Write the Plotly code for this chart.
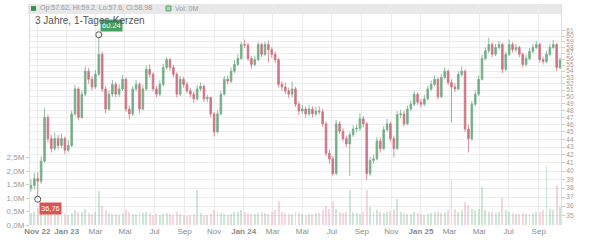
import math
import pandas as pd
import plotly.graph_objects as go

# ---- data (weekly candles) ----
start_date = "2022-10-19"
first_open = 38.0
closes = [
    38.3, 39.1, 38.8, 41.2, 47.0, 44.1, 42.8, 44.1, 43.2, 44.1,
    42.6, 43.2, 47.5, 51.2, 47.0, 50.4, 54.0, 52.7, 51.5, 53.5,
    56.8, 51.2, 48.2, 50.4, 51.9, 50.4, 51.2, 52.7, 48.2, 47.5,
    51.2, 51.9, 48.2, 51.2, 54.3, 53.5, 51.2, 50.4, 51.9, 54.6,
    55.9, 54.6, 53.5, 50.4, 52.7, 51.9, 50.9, 50.4, 49.7, 51.2,
    51.6, 49.7, 49.9, 47.5, 45.0, 47.5, 50.4, 52.7, 52.4, 54.0,
    55.1, 56.1, 58.5, 58.4, 56.1, 55.1, 55.9, 58.5, 56.8, 58.5,
    57.6, 56.8, 55.9, 51.9, 51.5, 50.9, 50.4, 51.2, 48.9, 47.9,
    48.2, 47.5, 48.2, 47.5, 47.9, 47.8, 46.1, 42.2, 41.5, 39.7,
    46.1, 45.1, 44.1, 43.4, 44.6, 45.4, 45.5, 46.8, 46.1, 39.7,
    41.3, 41.5, 43.8, 42.8, 45.3, 46.1, 44.1, 42.8, 47.4, 47.5,
    46.1, 48.2, 48.9, 50.4, 49.2, 48.9, 49.7, 51.2, 51.9, 52.7,
    50.0, 53.0, 54.0, 52.2, 51.5, 51.2, 53.5, 54.0, 45.4, 44.1,
    48.9, 50.4, 52.7, 56.1, 57.4, 58.5, 56.8, 58.0, 58.5, 54.3,
    56.8, 58.5, 57.6, 58.0, 56.8, 55.1, 56.1, 57.3, 58.0, 58.5,
    55.9, 55.6, 56.8, 58.0, 58.5, 54.6, 55.8,
]
highs = [
    39.0, 39.8, 39.9, 41.8, 48.3, 47.4, 44.6, 44.9, 44.6, 44.8,
    44.4, 43.9, 48.0, 51.8, 51.5, 51.0, 54.8, 54.5, 53.2, 54.2,
    60.24, 57.3, 51.6, 51.0, 52.6, 52.3, 51.9, 53.4, 53.0, 48.7,
    51.7, 52.6, 52.2, 51.8, 54.9, 55.1, 53.8, 51.7, 52.5, 55.2,
    56.3, 56.2, 55.0, 53.8, 53.3, 53.1, 52.3, 51.4, 50.8, 51.8,
    52.2, 51.9, 50.3, 50.0, 47.8, 48.0, 50.9, 53.2, 53.3, 54.6,
    55.8, 56.8, 59.0, 59.4, 58.8, 56.5, 56.6, 58.9, 58.8, 59.0,
    59.2, 58.0, 57.3, 56.2, 52.4, 52.2, 51.4, 52.3, 51.5, 49.3,
    48.8, 48.6, 48.8, 48.6, 48.5, 48.6, 48.2, 46.4, 42.7, 41.9,
    46.6, 46.5, 45.5, 44.5, 45.0, 45.9, 46.0, 47.6, 47.2, 46.4,
    41.8, 42.0, 44.3, 44.2, 45.8, 46.8, 46.4, 44.5, 47.9, 48.1,
    47.9, 48.7, 49.5, 50.9, 50.7, 49.7, 50.3, 51.7, 52.5, 53.3,
    53.0, 53.6, 54.6, 54.3, 52.7, 52.1, 54.0, 54.8, 54.3, 46.0,
    49.4, 51.0, 53.3, 56.7, 58.0, 59.7, 58.9, 58.6, 59.1, 58.8,
    57.3, 59.4, 58.9, 58.6, 58.3, 57.1, 56.7, 57.9, 58.6, 59.1,
    58.8, 56.4, 57.4, 58.6, 59.3, 58.8, 56.3,
]
lows = [
    37.6, 37.9, 36.76, 38.5, 41.0, 43.6, 42.3, 42.5, 42.7, 42.9,
    42.1, 42.3, 43.0, 47.2, 46.6, 46.8, 50.1, 52.0, 51.0, 51.2,
    53.2, 50.7, 47.6, 47.9, 50.0, 49.9, 50.0, 50.9, 47.8, 46.7,
    47.2, 50.8, 47.6, 48.0, 50.9, 53.0, 50.8, 49.9, 50.1, 51.6,
    54.2, 54.1, 53.0, 49.9, 50.1, 51.4, 50.5, 49.9, 49.1, 49.4,
    50.8, 49.2, 49.2, 47.0, 44.4, 44.8, 47.3, 50.2, 51.9, 52.1,
    53.7, 54.8, 55.9, 57.9, 55.7, 54.4, 54.8, 55.6, 56.3, 56.5,
    55.4, 56.2, 55.3, 51.4, 50.9, 50.4, 49.8, 50.0, 48.5, 47.3,
    47.5, 47.0, 47.2, 47.0, 47.2, 47.4, 45.7, 41.8, 40.9, 39.4,
    39.5, 44.7, 43.7, 43.0, 39.4, 44.3, 44.9, 45.1, 45.6, 38.9,
    39.4, 40.9, 41.3, 42.3, 42.6, 45.0, 43.7, 41.7, 42.6, 46.9,
    45.7, 45.9, 47.9, 48.6, 48.8, 48.4, 48.6, 49.4, 50.9, 51.6,
    49.6, 49.8, 52.7, 51.8, 46.3, 50.7, 51.0, 53.1, 45.0, 42.3,
    43.8, 48.6, 50.1, 52.5, 55.8, 57.0, 56.3, 56.5, 57.6, 53.7,
    54.0, 56.5, 57.1, 57.2, 56.3, 54.6, 54.8, 55.8, 57.0, 57.7,
    55.4, 55.1, 55.3, 56.5, 57.7, 54.0, 54.3,
]
volumes_m = [
    0.45, 0.50, 0.62, 0.55, 0.70, 0.48, 0.40, 0.38, 0.42, 0.35,
    0.40, 0.36, 0.45, 0.55, 0.50, 0.48, 0.60, 0.45, 0.42, 0.50,
    1.25, 0.70, 0.55, 0.45, 0.40, 0.42, 0.38, 0.45, 0.55, 0.50,
    0.42, 0.40, 0.48, 0.44, 0.50, 0.45, 0.38, 0.40, 0.36, 0.42,
    0.45, 0.40, 0.38, 0.48, 0.42, 0.36, 0.35, 0.38, 0.40, 1.30,
    0.45, 0.38, 0.36, 0.42, 0.55, 0.48, 0.45, 0.40, 0.38, 0.42,
    0.48, 0.50, 0.55, 0.48, 0.45, 0.42, 0.40, 0.45, 0.50, 0.44,
    0.42, 0.48, 0.55, 0.90, 0.50, 0.45, 0.40, 0.42, 0.48, 0.44,
    0.40, 0.38, 0.42, 0.40, 0.44, 0.46, 0.55, 0.70, 0.60, 0.90,
    0.60, 0.50, 0.45, 0.48, 1.30, 0.50, 0.45, 0.42, 0.48, 1.30,
    0.65, 0.50, 0.55, 0.48, 0.45, 0.50, 0.52, 0.60, 0.95, 0.50,
    0.45, 0.42, 0.40, 0.48, 0.44, 0.40, 0.38, 0.42, 0.45, 0.48,
    0.50, 0.45, 0.48, 0.55, 1.70, 0.60, 0.50, 0.55, 0.85, 0.75,
    0.60, 0.55, 0.60, 1.40, 0.55, 0.50, 0.48, 0.45, 0.50, 1.00,
    0.55, 0.50, 0.45, 0.42, 0.40, 0.45, 0.42, 0.40, 0.45, 0.50,
    0.48, 0.55, 2.20, 0.60, 0.55, 1.50, 0.65,
]
price_ticks = list(range(35, 62))
vol_ticks = [0, 0.5, 1.0, 1.5, 2.0, 2.5]
vol_tick_labels = ["0,0M", "0,5M", "1,0M", "1,5M", "2,0M", "2,5M"]
x_tick_dates = ["2022-11-01", "2023-01-01", "2023-03-01", "2023-05-01", "2023-07-01",
                "2023-09-01", "2023-11-01", "2024-01-01", "2024-03-01", "2024-05-01",
                "2024-07-01", "2024-09-01", "2024-11-01", "2025-01-01", "2025-03-01",
                "2025-05-01", "2025-07-01", "2025-09-01"]
x_tick_labels = ["<b>Nov 22</b>", "<b>Jan 23</b>", "Mar", "Mai", "Jul", "Sep", "Nov",
                 "<b>Jan 24</b>", "Mar", "Mai", "Jul", "Sep", "Nov", "<b>Jan 25</b>",
                 "Mar", "Mai", "Jul", "Sep"]
title_text = "3 Jahre, 1-Tages-Kerzen"
info_text = "Op:57.62, Hi:59.2, Lo:57.6, Cl:58.98"
vol_info_text = "Vol: 0M"

# ---- derived ----
dates = pd.date_range(start_date, periods=len(closes), freq="7D")
opens = [first_open] + closes[:-1]
up = [c >= o for o, c in zip(opens, closes)]

GREEN = "#74ad86"
RED = "#cf7383"
FONT = "Liberation Sans, Arial, sans-serif"

W, H = 600, 240
ML, MR, MT, MB = 30, 39, 4, 13
pw, ph = W - ML - MR, H - MT - MB
def px_x(px):
    return (px - ML) / pw
def px_y(py):
    return (H - MB - py) / ph

fig = go.Figure()

fig.add_trace(go.Bar(
    x=dates, y=volumes_m, yaxis="y",
    marker=dict(color=["rgba(130,195,150,0.40)" if u else "rgba(235,150,168,0.40)" for u in up],
                line=dict(width=0)),
    width=4 * 86400000, hoverinfo="skip", showlegend=False,
))

fig.add_trace(go.Candlestick(
    x=dates, open=opens, high=highs, low=lows, close=closes, yaxis="y2",
    increasing=dict(line=dict(color=GREEN, width=0.8), fillcolor=GREEN),
    decreasing=dict(line=dict(color=RED, width=0.8), fillcolor=RED),
    whiskerwidth=0, showlegend=False,
))

i_hi = max(range(len(highs)), key=lambda i: highs[i])
i_lo = min(range(len(lows)), key=lambda i: lows[i])
fig.add_trace(go.Scatter(
    x=[dates[i_hi], dates[i_lo]], y=[highs[i_hi], lows[i_lo]], yaxis="y2",
    mode="markers",
    marker=dict(symbol="circle", size=6, color="rgba(255,255,255,0.6)",
                line=dict(color="#555", width=1)),
    showlegend=False, hoverinfo="skip",
))

annotations = [
    dict(x=dates[i_hi], y=math.log10(highs[i_hi]), xref="x", yref="y2",
         text=f"{highs[i_hi]:.2f}", showarrow=False, xanchor="left", yanchor="bottom",
         xshift=1, yshift=3, bgcolor="#45a064", borderpad=1,
         font=dict(color="white", size=7.5, family=FONT)),
    dict(x=dates[i_lo], y=math.log10(lows[i_lo]), xref="x", yref="y2",
         text=f"{lows[i_lo]:.2f}".replace(".", ","), showarrow=False, xanchor="left",
         yanchor="top", xshift=1, yshift=-3, bgcolor="#d9534f", borderpad=1,
         font=dict(color="white", size=7.5, family=FONT)),
    dict(x=px_x(33), y=px_y(21), xref="paper", yref="paper", text=title_text,
         showarrow=False, xanchor="left", yanchor="middle",
         font=dict(color="#555", size=10, family=FONT)),
    dict(x=px_x(38), y=px_y(8.5), xref="paper", yref="paper", text=info_text,
         showarrow=False, xanchor="left", yanchor="middle",
         font=dict(color="#9a9a9a", size=7, family=FONT)),
    dict(x=px_x(173), y=px_y(8.5), xref="paper", yref="paper", text=vol_info_text,
         showarrow=False, xanchor="left", yanchor="middle",
         font=dict(color="#9a9a9a", size=7, family=FONT)),
]

shapes = [
    dict(type="rect", xref="paper", yref="paper", x0=px_x(28), x1=px_x(561),
         y0=px_y(14), y1=px_y(4), fillcolor="#e8e8e8", line=dict(width=0), layer="below"),
    dict(type="rect", xref="paper", yref="paper", x0=px_x(31), x1=px_x(36),
         y0=px_y(11), y1=px_y(6), fillcolor="#3f8f58", line=dict(width=0)),
    dict(type="rect", xref="paper", yref="paper", x0=px_x(166), x1=px_x(171),
         y0=px_y(11), y1=px_y(6), fillcolor="#a8d5b5", line=dict(color="#5a9f70", width=1)),
]

lo_edge = 36.76 * math.exp((201 - 227) / 336)
hi_edge = 36.76 * math.exp((201 - 4) / 336)

fig.update_layout(
    width=W, height=H, margin=dict(l=ML, r=MR, t=MT, b=MB),
    paper_bgcolor="white", plot_bgcolor="white",
    font=dict(family=FONT, size=8, color="#999"),
    showlegend=False, hovermode=False,
    bargap=0,
    xaxis=dict(type="date", range=["2022-10-17", "2025-10-17"],
               tickvals=x_tick_dates, ticktext=x_tick_labels,
               tickfont=dict(size=8, color="#8a8a8a", family=FONT),
               showgrid=True, gridcolor="#ececec", gridwidth=1,
               ticks="", showline=False, zeroline=False,
               rangeslider=dict(visible=False), fixedrange=True),
    yaxis=dict(side="left", range=[0, 8.2], tickvals=vol_ticks, ticktext=vol_tick_labels,
               tickfont=dict(size=8, color="#9a9a9a", family=FONT),
               showgrid=False, zeroline=False, ticks="outside", ticklen=3,
               tickcolor="#cccccc", showline=True, linecolor="#e0e0e0"),
    yaxis2=dict(type="log", side="right", overlaying="y",
                range=[math.log10(lo_edge), math.log10(hi_edge)],
                tickvals=price_ticks, ticktext=[str(t) for t in price_ticks],
                tickfont=dict(size=6.5, color="#9a9a9a", family=FONT),
                showgrid=True, gridcolor="#ececec", gridwidth=1,
                ticks="outside", ticklen=3, tickcolor="#cccccc",
                showline=True, linecolor="#e0e0e0", zeroline=False),
    annotations=annotations, shapes=shapes,
)

fig.write_html("out.html")
